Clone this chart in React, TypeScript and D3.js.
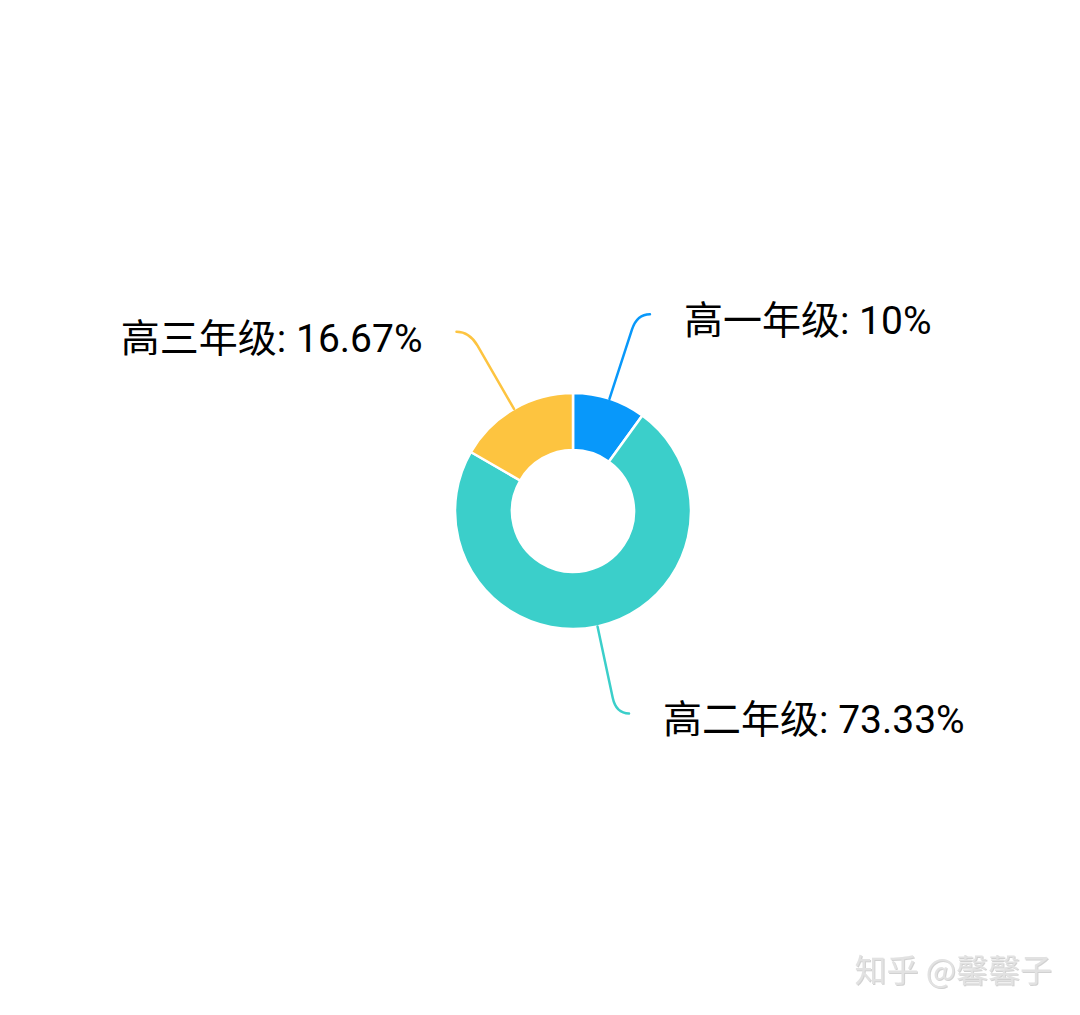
import React from "react";
import * as d3 from "d3";

const categories = ["高一年级", "高二年级", "高三年级"];
const values = [3, 22, 5];
const percentLabels = ["10%", "73.33%", "16.67%"];
const colors = ["#0898FA", "#3BCFCA", "#FDC440"];

const W = 1080;
const H = 1015;
const cx = 573;
const cy = 511;
const outerR = 118;
const innerR = 61;
const len1 = 89;
const len2 = 13;
const textGap = 34;
const fontSize = 39;

export default function App() {
  const pie = d3.pie<number>().sort(null).value((d) => d);
  const arcs = pie(values);
  const arcGen = d3.arc<d3.PieArcDatum<number>>().innerRadius(innerR).outerRadius(outerR);

  return (
    <svg
      width={W}
      height={H}
      style={{ position: "absolute", left: 0, top: 0, background: "#fff" }}
      fontFamily='Roboto, "Noto Sans CJK SC", sans-serif'
    >
      <g transform={`translate(${cx},${cy})`}>
        {arcs.map((a, i) => (
          <path key={i} d={arcGen(a) || ""} fill={colors[i]} stroke="#fff" strokeWidth={2.5} strokeLinejoin="round" />
        ))}
        {arcs.map((a, i) => {
          const mid = (a.startAngle + a.endAngle) / 2;
          const sx = Math.sin(mid);
          const sy = -Math.cos(mid);
          const p0 = [sx * outerR, sy * outerR];
          const p1 = [sx * (outerR + len1), sy * (outerR + len1)];
          const dir = sx >= 0 ? 1 : -1;
          const p2 = [p1[0] + dir * len2, p1[1]];
          const t = 0.82;
          const a1 = [p0[0] + (p1[0] - p0[0]) * t, p0[1] + (p1[1] - p0[1]) * t];
          const path = `M${p0[0]},${p0[1]} L${a1[0]},${a1[1]} Q${p1[0]},${p1[1]} ${p2[0]},${p2[1]}`;
          const tx = p2[0] + dir * textGap;
          return (
            <g key={"l" + i}>
              <path d={path} fill="none" stroke={colors[i]} strokeWidth={2.5} strokeLinecap="round" />
              <text
                x={tx}
                y={p2[1] + 7}
                fontSize={fontSize}
                fill="#000"
                textAnchor={dir > 0 ? "start" : "end"}
                dominantBaseline="central"
              >
                {`${categories[i]}: ${percentLabels[i]}`}
              </text>
            </g>
          );
        })}
      </g>
      <text
        x={1052}
        y={968}
        fontSize={32}
        textAnchor="end"
        dominantBaseline="central"
        fill="#e2e2e2"
        fontFamily='"Noto Sans CJK SC", sans-serif'
        style={{ filter: "drop-shadow(1px 1px 0.6px rgba(0,0,0,0.18))" }}
      >
        知乎 @馨馨子
      </text>
    </svg>
  );
}
